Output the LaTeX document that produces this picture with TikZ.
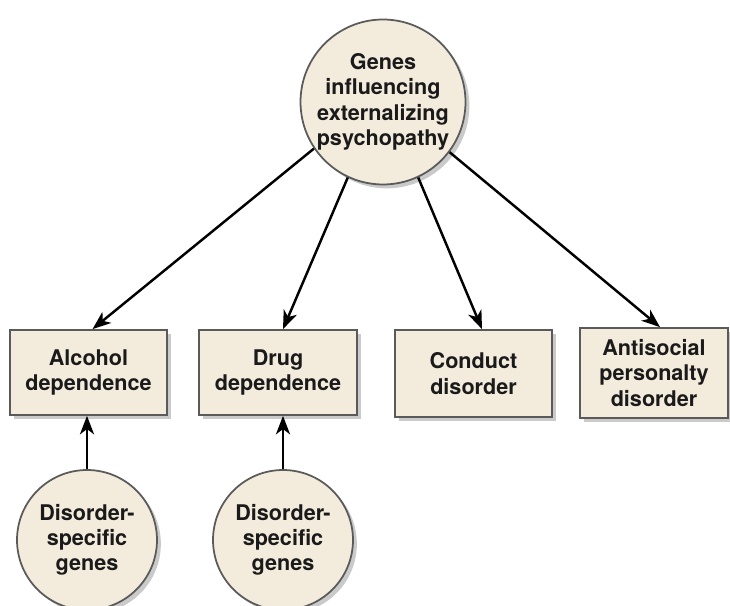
\documentclass[tikz,border=0pt]{standalone}
\usepackage{fontspec}
\setmainfont{TeX Gyre Heros}
\usetikzlibrary{arrows.meta,shadows,calc}
\definecolor{boxfill}{HTML}{F3EBDC}
\definecolor{boxline}{HTML}{5A5A5A}
\definecolor{txt}{HTML}{1A1A1A}
\tikzset{
  base/.style={draw=boxline, line width=1pt, fill=boxfill, text=txt, align=center,
    font=\fontsize{12.3}{14.4}\selectfont\bfseries,
    drop shadow={shadow xshift=2.2pt, shadow yshift=-2.2pt, fill=black!35, opacity=0.6}},
  gene/.style={base, circle, inner sep=0pt},
  disorder/.style={base, rectangle, inner sep=0pt},
  conn/.style={line width=1.4pt, black, -{Stealth[length=10.5pt,width=8pt,inset=3pt]}}
}
\begin{document}
\begin{tikzpicture}[x=0.02cm,y=0.02cm]
\useasboundingbox (0,0) rectangle (730,605);
\node[gene, minimum size=3.3cm] (top) at (383,503) {Genes\\influencing\\externalizing\\psychopathy};
\node[disorder, minimum width=3.14cm, minimum height=1.7cm] (alc) at (88.5,232.5) {Alcohol\\dependence};
\node[disorder, minimum width=3.16cm, minimum height=1.7cm] (drug) at (278,232.5) {Drug\\dependence};
\node[disorder, minimum width=3.14cm, minimum height=1.74cm] (cond) at (473.5,231.5) {Conduct\\disorder};
\node[disorder, minimum width=2.96cm, minimum height=1.8cm] (anti) at (654,232) {Antisocial\\personalty\\disorder};
\node[gene, minimum size=2.8cm] (ds1) at (87,65) {Disorder-\\specific\\genes};
\node[gene, minimum size=2.8cm] (ds2) at (283,65) {Disorder-\\specific\\genes};
\draw[conn] (top.214) -- ($(alc.north)+(4,0)$);
\draw[conn] (top.245) -- ($(drug.north)+(5,0)$);
\draw[conn] (top.295) -- ($(cond.north)+(8.5,0)$);
\draw[conn] (top.323) -- ($(anti.north)+(6,0)$);
\draw[conn] (ds1) -- (ds1 |- alc.south);
\draw[conn] (ds2) -- (ds2 |- drug.south);
\end{tikzpicture}
\end{document}
